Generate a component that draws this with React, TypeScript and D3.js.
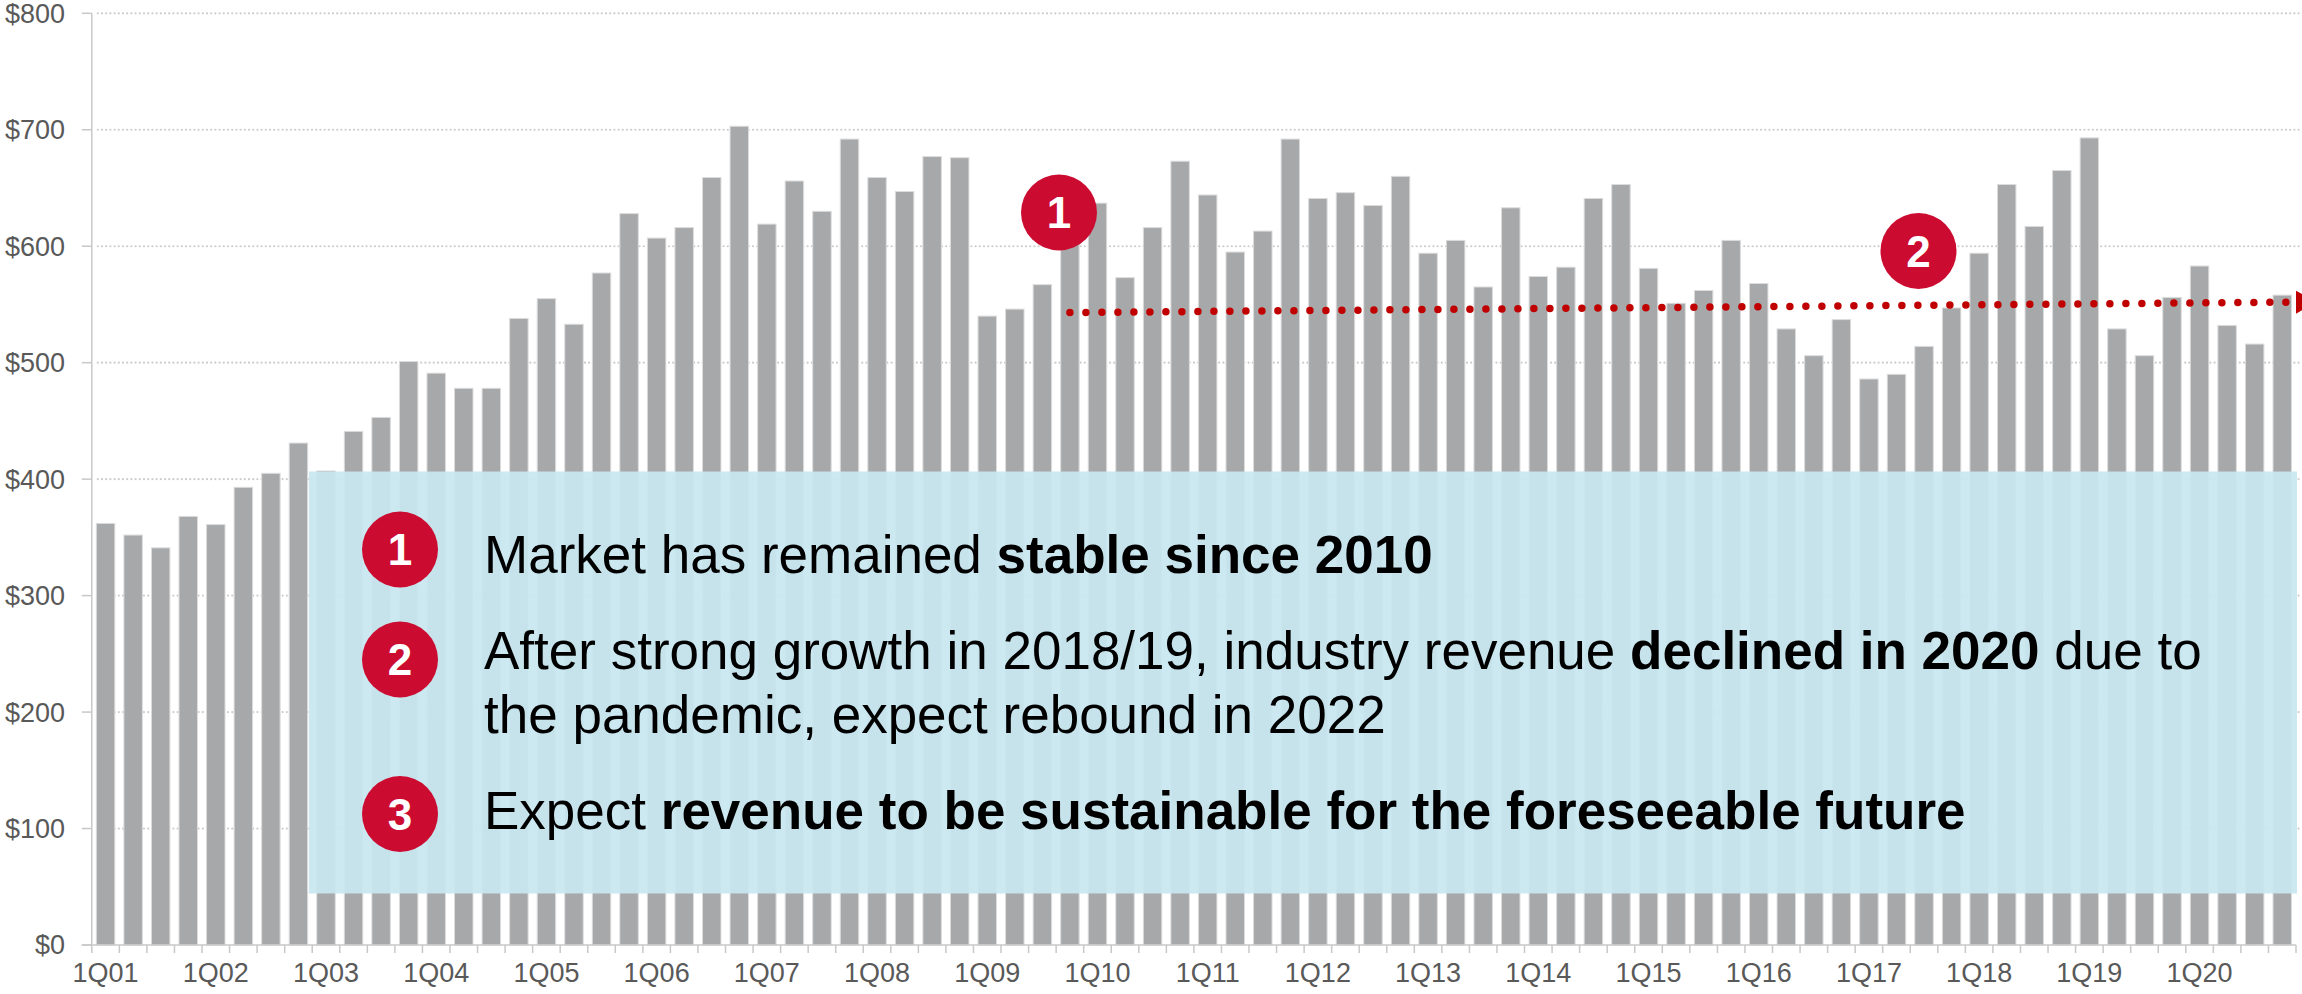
import React from 'react';
import * as d3 from 'd3';

const years = ['01', '02', '03', '04', '05', '06', '07', '08', '09', '10', '11', '12', '13', '14', '15', '16', '17', '18', '19', '20'];
const quarters = ['1Q', '2Q', '3Q', '4Q'];
const periods = years.flatMap(y => quarters.map(q => `${q}${y}`));

// quarterly revenue, $M
const revenue = [
  362, 352, 341, 368, 361, 393, 405, 431, 407, 441,
  453, 501, 491, 478, 478, 538, 555, 533, 577, 628,
  607, 616, 659, 703, 619, 656, 630, 692, 659, 647,
  677, 676, 540, 546, 567, 615, 637, 573, 616, 673,
  644, 595, 613, 692, 641, 646, 635, 660, 594, 605,
  565, 633, 574, 582, 641, 653, 581, 551, 562, 605,
  568, 529, 506, 537, 486, 490, 514, 547, 594, 653,
  617, 665, 693, 529, 506, 556, 583, 532, 516, 558,
];

const tickLabels = ['1Q01', '1Q02', '1Q03', '1Q04', '1Q05', '1Q06', '1Q07', '1Q08', '1Q09', '1Q10', '1Q11', '1Q12', '1Q13', '1Q14', '1Q15', '1Q16', '1Q17', '1Q18', '1Q19', '1Q20'];
const yTicks = [0, 100, 200, 300, 400, 500, 600, 700, 800];

// trend since 2010: starts at 4Q09, runs to the end of the axis
const trendFrom = '4Q09';
const trendValues = [543, 552];

const W = 2302;
const H = 994;
const FONT = '"Liberation Sans", Arial, sans-serif';
const RED = '#cc0b31';

export default function App() {
  const x = d3.scaleBand<string>().domain(periods).range([91.8, 2296]).paddingInner(0.33).paddingOuter(0.165);
  const y = d3.scaleLinear().domain([0, 800]).range([945, 13.3]);
  const [x0, x1] = x.range();
  const half = x.step() / 2;
  const cx = (p: string) => (x(p) ?? 0) + x.bandwidth() / 2;
  const bounds = periods.map(p => cx(p) - half).concat([x1]);

  const tx0 = cx(trendFrom);
  const ty0 = y(trendValues[0]);
  const ty1 = y(trendValues[1]);

  const boxX = 309, boxY = 471.5, boxW = 1988, boxH = 422;
  const bullets = [
    { n: '1', cy: 549.5 },
    { n: '2', cy: 659.5 },
    { n: '3', cy: 814 },
  ];
  const bx = 400;
  const textX = 484;

  return (
    <div style={{ position: 'absolute', left: 0, top: 0 }}>
      <svg width={W} height={H} style={{ display: 'block', background: '#fff', fontFamily: FONT }}>
        {/* grid */}
        {yTicks.filter(t => t > 0).map(t => (
          <line key={t} x1={x0 + 6} x2={W} y1={y(t)} y2={y(t)} stroke="#cccccc" strokeWidth={2.2} strokeDasharray="0 4.2" strokeLinecap="round" />
        ))}
        {yTicks.map(t => (
          <g key={'yt' + t}>
            <line x1={x0 - 10} x2={x0} y1={y(t)} y2={y(t)} stroke="#c8c8c8" strokeWidth={1.5} />
            <text x={65} y={y(t)} dy="0.35em" textAnchor="end" fontSize={27} fill="#595959">${t}</text>
          </g>
        ))}
        <line x1={x0} x2={x0} y1={y(800)} y2={y(0)} stroke="#c8c8c8" strokeWidth={1.5} />

        {/* bars */}
        {periods.map((p, i) => (
          <rect key={p} x={x(p)} y={y(revenue[i])} width={x.bandwidth()} height={y(0) - y(revenue[i])}
            fill="#a7a8aa" stroke="#dcdcdc" strokeWidth={1} />
        ))}

        {/* x axis */}
        <line x1={x0 - 10} x2={x1} y1={y(0)} y2={y(0)} stroke="#c8c8c8" strokeWidth={1.5} />
        {bounds.map((b, i) => (
          <line key={'xt' + i} x1={b} x2={b} y1={y(0)} y2={y(0) + 8} stroke="#c8c8c8" strokeWidth={1.5} />
        ))}
        {tickLabels.map(l => (
          <text key={l} x={cx(l)} y={982} textAnchor="middle" fontSize={27} fill="#595959">{l}</text>
        ))}

        {/* trend */}
        <line x1={tx0} y1={ty0} x2={x1 - 6} y2={ty1} stroke="#c00000" strokeWidth={7.5} strokeDasharray="0 16" strokeLinecap="round" />
        <path d={`M${x1},${ty1 - 11.5} L${x1 + 20},${ty1} L${x1},${ty1 + 11.5} Z`} fill="#c00000" />

        {/* callout markers on chart */}
        <circle cx={1059} cy={212.5} r={38} fill={RED} />
        <text x={1059} y={212.5} dy="0.36em" textAnchor="middle" fontSize={44} fontWeight="bold" fill="#fff">1</text>
        <circle cx={1918.5} cy={251} r={38} fill={RED} />
        <text x={1918.5} y={251} dy="0.36em" textAnchor="middle" fontSize={44} fontWeight="bold" fill="#fff">2</text>

        {/* notes box */}
        <rect x={boxX} y={boxY} width={boxW} height={boxH} fill="#c8e6f0" fillOpacity={0.93} />
        {bullets.map(b => (
          <g key={b.n}>
            <circle cx={bx} cy={b.cy} r={38} fill={RED} />
            <text x={bx} y={b.cy} dy="0.36em" textAnchor="middle" fontSize={44} fontWeight="bold" fill="#fff">{b.n}</text>
          </g>
        ))}
        <text x={textX} y={573} fontSize={53} fill="#000">
          {'Market has remained '}<tspan fontWeight="bold">stable since 2010</tspan>
        </text>
        <text x={textX} y={669} fontSize={53} fill="#000">
          {'After strong growth in 2018/19, industry revenue '}<tspan fontWeight="bold">declined in 2020</tspan>{' due to'}
        </text>
        <text x={textX} y={733} fontSize={53} fill="#000">the pandemic, expect rebound in 2022</text>
        <text x={textX} y={828.5} fontSize={53} fill="#000">
          {'Expect '}<tspan fontWeight="bold">revenue to be sustainable for the foreseeable future</tspan>
        </text>
      </svg>
    </div>
  );
}
